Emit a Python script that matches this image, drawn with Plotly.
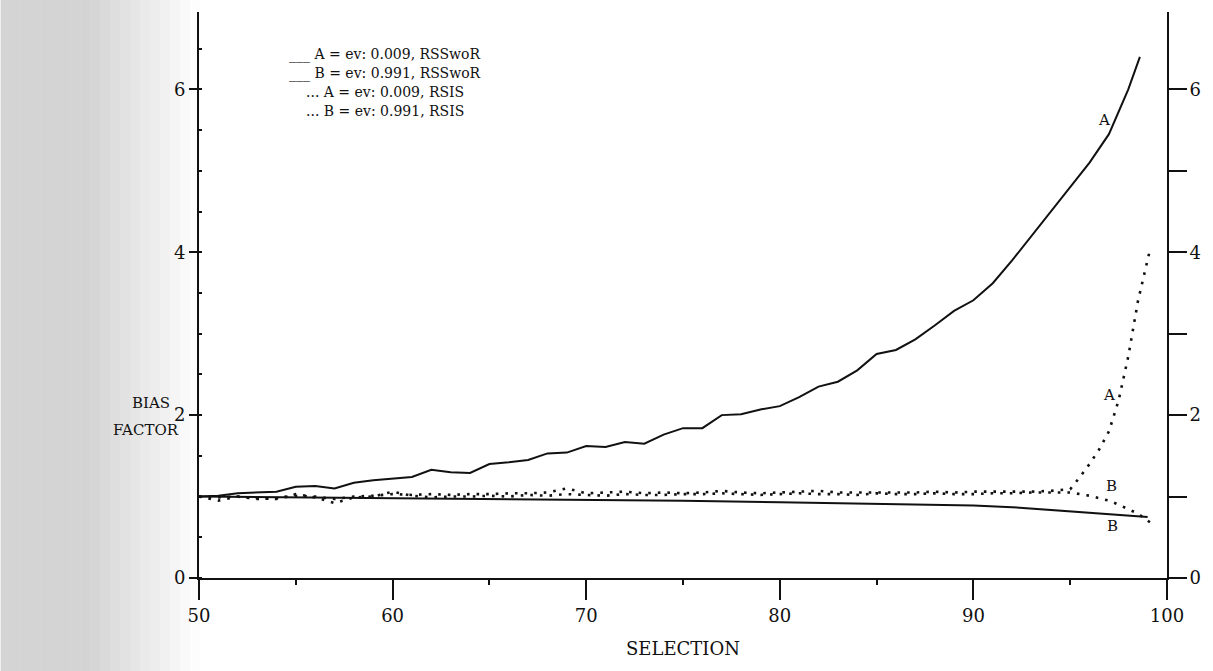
import plotly.graph_objects as go

# Bias factor vs. selection (%) for two estimators (RSSwoR, RSIS)
# and two event probabilities (ev = 0.009 -> A, ev = 0.991 -> B)
sel_rsswor_a = list(range(50, 99)) + [98.6]
bias_rsswor_a = [1.00, 1.01, 1.04, 1.05, 1.06, 1.12, 1.13, 1.10, 1.17, 1.20,
                 1.22, 1.24, 1.33, 1.30, 1.29, 1.40, 1.42, 1.45, 1.53, 1.54,
                 1.62, 1.61, 1.67, 1.65, 1.76, 1.84, 1.84, 2.00, 2.01, 2.07,
                 2.11, 2.22, 2.35, 2.41, 2.55, 2.75, 2.80, 2.93, 3.10, 3.28,
                 3.41, 3.62, 3.90, 4.20, 4.50, 4.80, 5.10, 5.45, 6.00, 6.40]

sel_rsswor_b = [50, 55, 60, 65, 70, 75, 80, 85, 90, 92, 95, 97, 99]
bias_rsswor_b = [1.00, 0.99, 0.98, 0.97, 0.96, 0.95, 0.93, 0.91, 0.89, 0.87,
                 0.82, 0.79, 0.75]

sel_rsis_a = list(range(50, 96)) + [95.5, 96, 96.5, 97, 97.5, 98, 98.5, 99.1]
bias_rsis_a = [1.00, 0.99, 1.00, 0.97, 0.98, 1.01, 1.00, 0.97, 1.00, 1.01,
               1.03, 1.02, 1.03, 1.02, 1.03, 1.03, 1.04, 1.04, 1.05, 1.10,
               1.04, 1.05, 1.06, 1.04, 1.05, 1.04, 1.05, 1.07, 1.05, 1.04,
               1.05, 1.06, 1.07, 1.05, 1.05, 1.05, 1.05, 1.05, 1.06, 1.05,
               1.06, 1.06, 1.06, 1.06, 1.07, 1.09,
               1.24, 1.40, 1.58, 1.80, 2.18, 2.72, 3.40, 4.01]

sel_rsis_b = list(range(50, 96)) + [95.5, 96, 96.5, 97, 97.5, 98, 98.5, 99.2]
bias_rsis_b = [1.00, 0.95, 1.00, 0.98, 0.97, 1.03, 0.99, 0.92, 0.99, 1.00,
               1.06, 1.01, 0.99, 1.00, 1.00, 1.01, 1.00, 1.02, 1.01, 1.03,
               1.02, 1.01, 1.03, 1.02, 1.02, 1.03, 1.03, 1.04, 1.03, 1.02,
               1.03, 1.04, 1.03, 1.03, 1.02, 1.04, 1.03, 1.03, 1.04, 1.03,
               1.03, 1.04, 1.04, 1.05, 1.05, 1.05,
               1.03, 1.01, 0.98, 0.95, 0.90, 0.85, 0.79, 0.67]

legend_lines = ["___ A = ev: 0.009, RSSwoR",
                "___ B = ev: 0.991, RSSwoR",
                "... A = ev: 0.009, RSIS",
                "... B = ev: 0.991, RSIS"]

curve_labels = ["A", "A", "B", "B"]
curve_label_x = [96.75, 97.0, 97.15, 97.2]
curve_label_y = [5.62, 2.25, 1.13, 0.64]

x_ticks = [50, 60, 70, 80, 90, 100]
y_ticks = [0, 2, 4, 6]

FONT = "DejaVu Serif"
INK = "#111111"

fig = go.Figure()
fig.add_trace(go.Scatter(x=sel_rsswor_a, y=bias_rsswor_a, mode="lines",
                         line=dict(color=INK, width=2), name=legend_lines[0]))
fig.add_trace(go.Scatter(x=sel_rsswor_b, y=bias_rsswor_b, mode="lines",
                         line=dict(color=INK, width=2), name=legend_lines[1]))
fig.add_trace(go.Scatter(x=sel_rsis_a, y=bias_rsis_a, mode="lines",
                         line=dict(color=INK, width=2.6, dash="2.6px,7px"),
                         name=legend_lines[2]))
fig.add_trace(go.Scatter(x=sel_rsis_b, y=bias_rsis_b, mode="lines",
                         line=dict(color=INK, width=2.6, dash="2.6px,7px"),
                         name=legend_lines[3]))
# invisible trace to carry the right-hand axis
fig.add_trace(go.Scatter(x=[50], y=[0], yaxis="y2", mode="markers",
                         marker=dict(opacity=0), showlegend=False,
                         hoverinfo="skip"))

# legend printed as centred text lines
for i, txt in enumerate(legend_lines):
    fig.add_annotation(text=txt, xref="x", yref="y", x=59.6, y=6.43 - i * 0.232,
                       showarrow=False, xanchor="center", yanchor="middle",
                       font=dict(family=FONT, size=14, color=INK))

for t, lx, ly in zip(curve_labels, curve_label_x, curve_label_y):
    fig.add_annotation(text=t, x=lx, y=ly, showarrow=False,
                       font=dict(family=FONT, size=15, color=INK))

fig.add_annotation(text="BIAS", xref="paper", yref="y", x=-0.0495, y=2.15,
                   showarrow=False, xanchor="center", yanchor="middle",
                   font=dict(family=FONT, size=15, color=INK))
fig.add_annotation(text="FACTOR", xref="paper", yref="y", x=-0.0545, y=1.82,
                   showarrow=False, xanchor="center", yanchor="middle",
                   font=dict(family=FONT, size=15, color=INK))
fig.add_annotation(text="SELECTION", xref="x", yref="paper", x=75.0, y=-0.125,
                   showarrow=False, xanchor="center", yanchor="middle",
                   font=dict(family=FONT, size=18, color=INK))

# halftone shading along the left edge of the page
strip_px = 10
for k in range(20):
    px0 = k * strip_px
    centre = px0 + strip_px / 2
    alpha = 0.22 if centre < 90 else max(0.0, 0.22 * (200 - centre) / 110)
    fig.add_shape(type="rect", xref="paper", yref="paper", layer="below",
                  x0=(px0 - 199) / 971, x1=(px0 + strip_px - 199) / 971,
                  y0=-0.2, y1=1.05, line=dict(width=0),
                  fillcolor=f"rgba(60,60,60,{alpha:.3f})")

axis_font = dict(family=FONT, size=18, color=INK)
fig.update_layout(
    width=1213, height=671,
    margin=dict(l=199, r=43, t=12, b=93),
    paper_bgcolor="white", plot_bgcolor="rgba(0,0,0,0)",
    showlegend=False,
    xaxis=dict(range=[50, 100], tickvals=x_ticks, ticks="outside", ticklen=20,
               tickwidth=2, tickcolor=INK, showline=True, linecolor=INK,
               linewidth=2, showgrid=False, zeroline=False,
               tickfont=axis_font,
               minor=dict(dtick=5, tick0=50, ticks="outside", ticklen=5,
                          tickcolor=INK, showgrid=False)),
    yaxis=dict(range=[0, 6.95], tickvals=y_ticks, ticks="outside", ticklen=8,
               tickwidth=2, tickcolor=INK, showline=True, linecolor=INK,
               linewidth=2, showgrid=False, zeroline=False,
               tickfont=axis_font, ticklabelstandoff=0,
               minor=dict(dtick=0.5, ticks="inside", ticklen=3,
                          tickcolor=INK, showgrid=False)),
    yaxis2=dict(range=[0, 6.95], overlaying="y", side="right",
                tickvals=y_ticks, ticks="outside", ticklen=11, tickwidth=2,
                tickcolor=INK, showline=True, linecolor=INK, linewidth=2,
                showgrid=False, zeroline=False, tickfont=axis_font,
                ticklabelstandoff=6,
                minor=dict(dtick=1, ticks="outside", ticklen=18, tickwidth=2,
                           tickcolor=INK, showgrid=False)),
)

fig.write_html("out.html")
